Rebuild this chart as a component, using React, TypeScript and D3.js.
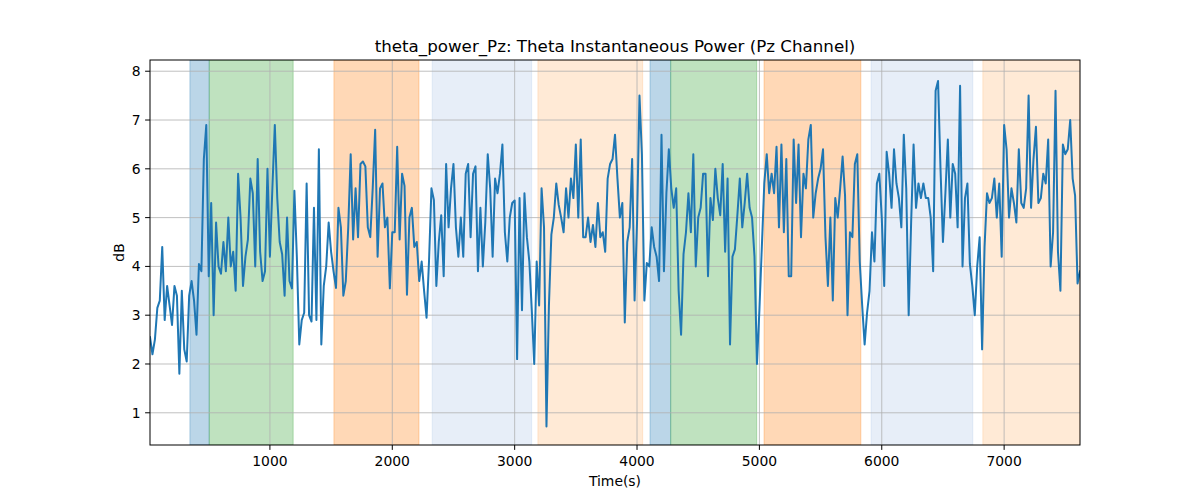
import React from "react";
import * as d3 from "d3";

// Sampling: one reading every 20 s starting at t = 20 s
const startTime = 20;
const samplePeriod = 20;

const powerDb: number[] = [
  2.55, 2.2, 2.5, 3.15, 3.3, 4.4, 2.9, 3.6, 3.2, 2.8,
  3.6, 3.4, 1.8, 3.5, 2.3, 2.05, 3.4, 3.7, 3.3, 2.6,
  4.05, 3.9, 6.2, 6.9, 3.8, 5.3, 3.0, 4.9, 4.0, 3.85,
  4.5, 3.9, 5.0, 4.0, 4.3, 3.5, 5.9, 5.0, 3.6, 4.2,
  4.55, 5.8, 5.5, 4.0, 6.2, 4.3, 3.7, 3.9, 6.0, 4.2,
  5.6, 6.9, 5.4, 4.5, 4.25, 3.4, 5.0, 3.7, 3.55, 5.55,
  4.2, 2.4, 2.9, 3.05, 5.7, 3.0, 2.87, 5.2, 2.9, 6.4,
  2.4, 3.6, 4.0, 4.9, 4.3, 3.9, 3.56, 5.2, 4.8, 3.4,
  3.7, 4.8, 6.3, 4.55, 5.6, 4.6, 6.1, 6.15, 6.05, 4.8,
  4.6, 5.6, 6.8, 4.2, 5.6, 5.7, 4.8, 5.0, 3.55, 4.7,
  4.7, 6.45, 4.55, 5.9, 5.65, 3.42, 5.0, 5.2, 4.4, 4.5,
  3.7, 4.1, 3.5, 2.95, 4.1, 5.6, 5.36, 3.6, 4.5, 5.05,
  3.8, 6.1, 4.8, 5.6, 6.1, 4.8, 4.2, 5.0, 4.2, 5.9,
  6.1, 4.6, 5.9, 6.05, 3.9, 5.2, 4.0, 4.9, 6.3, 5.6,
  4.2, 5.8, 5.5, 5.9, 6.5, 4.7, 4.1, 5.0, 5.3, 5.35,
  2.1, 5.4, 3.1, 5.5, 4.6, 4.1, 3.1, 2.0, 4.1, 3.2,
  5.6, 4.8, 0.72, 3.2, 4.65, 5.0, 5.7, 5.26, 5.0, 4.7,
  5.6, 5.0, 5.8, 5.4, 6.5, 5.0, 6.6, 4.6, 4.6, 5.0,
  4.5, 4.85, 4.4, 5.3, 4.6, 4.7, 4.3, 5.8, 6.1, 6.2,
  6.7, 5.8, 5.0, 5.3, 2.85, 4.5, 4.8, 6.2, 3.3, 4.9,
  7.5, 6.3, 3.3, 4.07, 4.0, 4.8, 4.4, 4.2, 3.7, 6.7,
  3.9, 5.5, 6.4, 5.6, 5.2, 5.6, 3.5, 2.6, 4.25, 4.7,
  5.5, 4.7, 6.3, 4.0, 5.0, 5.2, 5.9, 5.9, 3.8, 5.4,
  4.95, 6.0, 5.4, 5.05, 6.1, 4.3, 5.8, 2.4, 4.2, 4.35,
  5.05, 5.8, 4.8, 5.3, 5.9, 5.2, 5.0, 4.2, 2.0, 3.1,
  4.4, 5.7, 6.3, 5.5, 5.9, 5.5, 6.45, 4.8, 6.5, 4.7,
  6.2, 3.8, 3.8, 6.6, 5.3, 6.5, 4.6, 5.9, 5.6, 6.6,
  6.9, 5.0, 5.5, 5.8, 6.0, 6.4, 4.6, 3.6, 5.0, 3.3,
  5.4, 5.0, 5.6, 6.25, 5.45, 3.0, 4.7, 4.6, 6.1, 6.3,
  4.1, 3.2, 2.4, 3.05, 3.5, 4.7, 4.1, 5.7, 5.9, 5.0,
  3.6, 6.35, 5.9, 5.2, 6.4, 5.7, 5.4, 4.8, 6.7, 5.6,
  3.0, 4.9, 6.5, 5.2, 5.7, 5.4, 5.7, 5.4, 5.4, 5.0,
  3.9, 7.6, 7.8, 6.0, 4.5, 5.5, 6.6, 5.0, 6.1, 5.9,
  4.8, 7.7, 4.0, 5.4, 5.7, 4.05, 3.6, 3.0, 4.0, 4.6,
  2.3, 4.4, 5.5, 5.3, 5.4, 5.8, 5.0, 5.7, 4.2, 6.9,
  6.4, 5.0, 5.6, 5.3, 4.9, 6.4, 5.3, 5.2, 5.6, 7.5,
  5.2, 6.2, 6.86, 5.3, 5.4, 5.9, 5.7, 6.6, 4.0, 4.7,
  7.6, 4.3, 3.5, 6.5, 6.3, 6.4, 7.0, 5.8, 5.45, 3.65,
  3.9,
];

// Shaded intervals (start s, end s, colour)
const spanStarts = [346, 504, 1523, 2326, 3190, 4106, 4275, 5038, 5913, 6826];
const spanEnds = [504, 1190, 2218, 3139, 4046, 4275, 4978, 5829, 6744, 7621];
const spanColors = [
  "#1f77b4", "#2ca02c", "#ff7f0e", "#aec7e8", "#ffbb78",
  "#1f77b4", "#2ca02c", "#ff7f0e", "#aec7e8", "#ffbb78",
];

const xTicks = [1000, 2000, 3000, 4000, 5000, 6000, 7000];
const yTicks = [1, 2, 3, 4, 5, 6, 7, 8];
const xDomain: [number, number] = [20, 7620];
const yDomain: [number, number] = [0.34, 8.23];

const titleText = "theta_power_Pz: Theta Instantaneous Power (Pz Channel)";
const xLabel = "Time(s)";
const yLabel = "dB";

export default function App() {
  const W = 1200, H = 500;
  const left = 150, right = 1080, top = 60, bottom = 445;
  const x = d3.scaleLinear().domain(xDomain).range([left, right]);
  const y = d3.scaleLinear().domain(yDomain).range([bottom, top]);
  const pts: [number, number][] = powerDb.map((v, i) => [startTime + i * samplePeriod, v]);
  const line = d3.line<[number, number]>().x((d) => x(d[0])).y((d) => y(d[1]));
  const font = "DejaVu Sans, sans-serif";
  return (
    <div style={{ position: "absolute", left: 0, top: 0 }}>
      <svg width={W} height={H} style={{ display: "block", background: "#fff" }}>
        <defs>
          <clipPath id="plotClip">
            <rect x={left} y={top} width={right - left} height={bottom - top} />
          </clipPath>
        </defs>
        <g clipPath="url(#plotClip)">
          {spanStarts.map((s, i) => (
            <rect
              key={"span" + i}
              x={x(s)}
              y={top}
              width={x(spanEnds[i]) - x(s)}
              height={bottom - top}
              fill={spanColors[i]}
              fillOpacity={0.3}
              stroke={spanColors[i]}
              strokeOpacity={0.3}
              strokeWidth={1}
            />
          ))}
          {xTicks.map((t) => (
            <line key={"gx" + t} x1={x(t)} x2={x(t)} y1={top} y2={bottom} stroke="#b0b0b0" strokeWidth={0.8} />
          ))}
          {yTicks.map((t) => (
            <line key={"gy" + t} x1={left} x2={right} y1={y(t)} y2={y(t)} stroke="#b0b0b0" strokeWidth={0.8} />
          ))}
          <path d={line(pts) || ""} fill="none" stroke="#1f77b4" strokeWidth={2} strokeLinejoin="round" strokeLinecap="square" />
        </g>
        <rect x={left} y={top} width={right - left} height={bottom - top} fill="none" stroke="#000" strokeWidth={1} />
        {xTicks.map((t) => (
          <g key={"tx" + t}>
            <line x1={x(t)} x2={x(t)} y1={bottom} y2={bottom + 4.9} stroke="#000" strokeWidth={1} />
            <text x={x(t)} y={bottom + 21} textAnchor="middle" fontFamily={font} fontSize={13.9} fill="#000">
              {t}
            </text>
          </g>
        ))}
        {yTicks.map((t) => (
          <g key={"ty" + t}>
            <line x1={left - 4.9} x2={left} y1={y(t)} y2={y(t)} stroke="#000" strokeWidth={1} />
            <text x={left - 9.5} y={y(t)} dy="0.36em" textAnchor="end" fontFamily={font} fontSize={13.9} fill="#000">
              {t}
            </text>
          </g>
        ))}
        <text x={(left + right) / 2} y={52} textAnchor="middle" fontFamily={font} fontSize={16.7} fill="#000">
          {titleText}
        </text>
        <text x={(left + right) / 2} y={486} textAnchor="middle" fontFamily={font} fontSize={13.9} fill="#000">
          {xLabel}
        </text>
        <text
          transform={`translate(124, ${(top + bottom) / 2}) rotate(-90)`}
          textAnchor="middle"
          fontFamily={font}
          fontSize={13.9}
          fill="#000"
        >
          {yLabel}
        </text>
      </svg>
    </div>
  );
}
